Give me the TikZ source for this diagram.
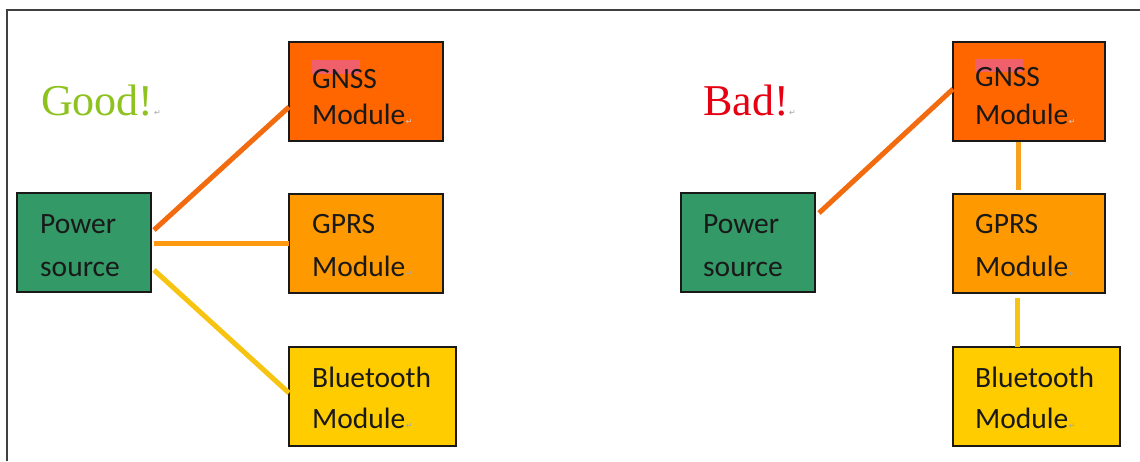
\documentclass[tikz,border=0pt]{standalone}
\usepackage{fontspec}
\setmainfont{Liberation Serif}
\newfontfamily\calibri{Carlito}
\newfontfamily\djv{DejaVu Sans}
\usetikzlibrary{calc}
\definecolor{gnssC}{HTML}{FF6600}
\definecolor{gprsC}{HTML}{FF9900}
\definecolor{btC}{HTML}{FFCC00}
\definecolor{pwC}{HTML}{339966}
\definecolor{goodC}{HTML}{8DC21F}
\definecolor{badC}{HTML}{E60012}
\definecolor{hlC}{HTML}{F0606A}
\definecolor{lineA}{HTML}{F26B0F}
\definecolor{lineB}{HTML}{FF9A10}
\definecolor{lineC}{HTML}{F7C412}
\definecolor{lineD}{HTML}{F7A21E}
\tikzset{
  box/.style={draw=black!90, line width=1.8pt, inner sep=0pt, outer sep=0pt, anchor=north west, minimum height=99pt},
  lbl/.style={anchor=base west, inner sep=0pt, font=\calibri\fontsize{29.5}{31}\selectfont, text=black!90},
  big/.style={anchor=base west, inner sep=0pt, font=\fontsize{44}{46}\selectfont},
  ret/.style={anchor=base west, inner sep=0pt, font=\djv\fontsize{8}{9}\selectfont, text=black!35},
  wire/.style={line width=5pt}
}
\begin{document}
\begin{tikzpicture}[x=1pt,y=-1pt]
\useasboundingbox (0,0) rectangle (1140,461);
\fill[white] (0,0) rectangle (1140,461);
\draw[black!75, line width=1.6pt] (7,461) -- (7,10) -- (1140,10);

% ---------- Good side ----------
\node[big, text=goodC] (good) at (41,115) {Good!};
\node[ret] (goodr) at (good.base east) {↵};

\node[box, fill=pwC, minimum width=134pt] (pL) at (17,193) {};
\node[box, fill=gnssC, minimum width=154pt] (gnL) at (289,42) {};
\node[box, fill=gprsC, minimum width=154pt] (gpL) at (289,194) {};
\node[box, fill=btC, minimum width=167pt] (btL) at (289,347) {};

\fill[hlC] (312,60) rectangle (360,74);

\node[lbl] (pL1) at (40,233) {Power};
\node[lbl] (pL2) at (40,276) {source};
\node[lbl] (gnL1) at (312,88) {GNSS};
\node[lbl] (gnL2) at (312,124) {Module};
\node[ret, text=black!20] (gnL2r) at (gnL2.base east) {↵};
\node[lbl] (gpL1) at (312,233) {GPRS};
\node[lbl] (gpL2) at (312,276) {Module};
\node[ret] (gpL2r) at (gpL2.base east) {↵};
\node[lbl] (btL1) at (312,387) {Bluetooth};
\node[lbl] (btL2) at (312,428) {Module};
\node[ret] (btL2r) at (btL2.base east) {↵};

\draw[wire, lineA] ($(pL.north east)+(3,37)$) -- ($(gnL.north west)+(0,65)$);
\draw[wire, lineB] ($(pL.north east)+(3,50)$) -- ($(gpL.north west)+(0,49)$);
\draw[wire, lineC] ($(pL.north east)+(3,77)$) -- ($(btL.north west)+(0,46)$);

% ---------- Bad side ----------
\node[big, text=badC] (bad) at (703,115) {Bad!};
\node[ret] (badr) at (bad.base east) {↵};

\node[box, fill=pwC, minimum width=134pt] (pR) at (681,193) {};
\node[box, fill=gnssC, minimum width=152pt] (gnR) at (953,42) {};
\node[box, fill=gprsC, minimum width=152pt] (gpR) at (953,194) {};
\node[box, fill=btC, minimum width=167pt] (btR) at (953,347) {};

\fill[hlC] (975,59) rectangle (1023,72);

\node[lbl] (pR1) at (703,233) {Power};
\node[lbl] (pR2) at (703,276) {source};
\node[lbl] (gnR1) at (975,86) {GNSS};
\node[lbl] (gnR2) at (975,124) {Module};
\node[ret, text=black!20] (gnR2r) at (gnR2.base east) {↵};
\node[lbl] (gpR1) at (975,233) {GPRS};
\node[lbl] (gpR2) at (975,276) {Module};
\node[ret] (gpR2r) at (gpR2.base east) {↵};
\node[lbl] (btR1) at (975,387) {Bluetooth};
\node[lbl] (btR2) at (975,428) {Module};
\node[ret] (btR2r) at (btR2.base east) {↵};

\draw[wire, lineA] ($(pR.north east)+(4,20)$) -- ($(gnR.north west)+(0,47)$);
\draw[wire, lineD] ($(gnR.south west)+(65,1)$) -- ($(gpR.north west)+(65,-4)$);
\draw[wire, lineC] ($(gpR.south west)+(64,5)$) -- ($(btR.north west)+(64,0)$);
\end{tikzpicture}
\end{document}
